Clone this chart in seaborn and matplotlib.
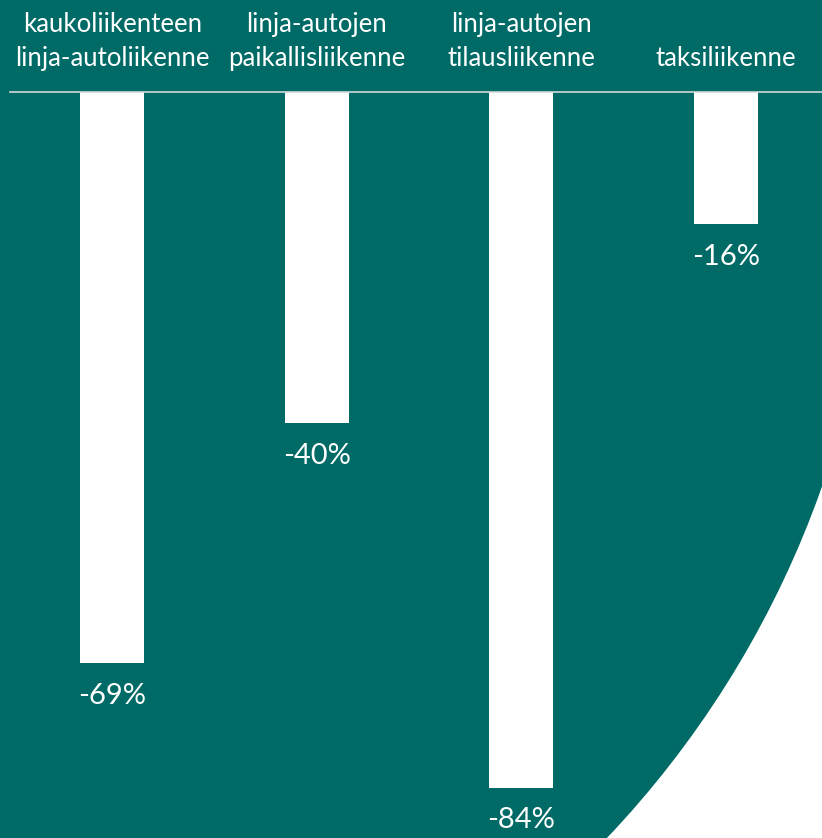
import matplotlib
matplotlib.use("Agg")
import matplotlib.pyplot as plt
from matplotlib.patches import Ellipse
import seaborn as sns
import pandas as pd

categories = ["kaukoliikenteen\nlinja-autoliikenne", "linja-autojen\npaikallisliikenne",
              "linja-autojen\ntilausliikenne", "taksiliikenne"]
values = [-69, -40, -84, -16]
value_labels = ["-69%", "-40%", "-84%", "-16%"]

TEAL = "#006A66"
W, H = 822, 838
sns.set_theme(style="white")
plt.rcParams['font.family'] = ['Lato', 'DejaVu Sans']

fig = plt.figure(figsize=(W / 100, H / 100), dpi=100, facecolor="white")

# background shape (teal disc, white bottom-right corner)
bg = fig.add_axes([0, 0, 1, 1])
bg.set_xlim(0, W)
bg.set_ylim(H, 0)
bg.axis("off")
bg.add_patch(Ellipse((-108, 159), 2 * 986, 2 * 986, color=TEAL, lw=0))

# main chart axes in pixel placement
left, right, top = 10, 822, 92
ax = fig.add_axes([left / W, 0, (right - left) / W, (H - top) / H])
ax.patch.set_alpha(0)

df = pd.DataFrame({"cat": categories, "val": values})
sns.barplot(data=df, x="cat", y="val", color="white", width=0.313,
            saturation=1, ax=ax, edgecolor="none")
ax.set_xlim(-0.5, 3.47)
ax.set_ylim(-(H - top) / 8.28, 0)

for s in ["left", "right", "bottom"]:
    ax.spines[s].set_visible(False)
ax.spines["top"].set_visible(True)
ax.spines["top"].set_color("#D0D8D7")
ax.spines["top"].set_linewidth(1.2)

ax.set_yticks([])
ax.xaxis.tick_top()
ax.tick_params(axis="x", length=0, pad=15, colors="white", labelsize=18.5)
for t in ax.get_xticklabels():
    t.set_multialignment("center")
    t.set_linespacing(1.45)
ax.set_xlabel("")
ax.set_ylabel("")

ax.bar_label(ax.containers[0], labels=value_labels, padding=14,
             color="white", fontsize=21)

fig.savefig("out.png", dpi=100, facecolor="white")
